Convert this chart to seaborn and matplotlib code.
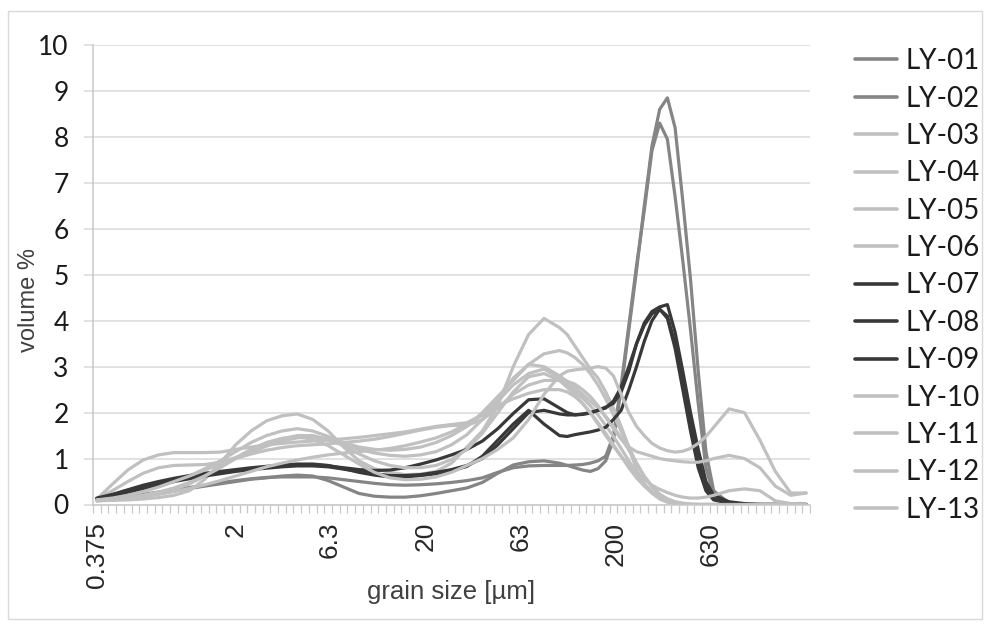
import matplotlib
matplotlib.use("Agg")
import numpy as np
import pandas as pd
import matplotlib.pyplot as plt
import seaborn as sns
from matplotlib.ticker import FixedLocator, NullFormatter
from matplotlib.lines import Line2D
from matplotlib.patches import Rectangle

# ---------------- data ----------------
# laser-diffraction size classes (µm), 93 channels
size_classes = [0.375, 0.412, 0.452, 0.496, 0.545, 0.598, 0.657, 0.721, 0.791, 0.869,
                0.953, 1.047, 1.149, 1.261, 1.385, 1.520, 1.669, 1.832, 2.011, 2.207,
                2.423, 2.660, 2.920, 3.205, 3.519, 3.863, 4.240, 4.655, 5.110, 5.610,
                6.158, 6.760, 7.421, 8.147, 8.943, 9.817, 10.78, 11.83, 12.99, 14.26,
                15.65, 17.18, 18.86, 20.71, 22.73, 24.95, 27.39, 30.07, 33.01, 36.24,
                39.78, 43.67, 47.94, 52.62, 57.77, 63.41, 69.61, 76.42, 83.89, 92.09,
                101.1, 111.0, 121.8, 133.7, 146.8, 161.2, 176.9, 194.2, 213.2, 234.1,
                256.9, 282.1, 309.6, 339.9, 373.1, 409.6, 449.7, 493.6, 541.9, 594.9,
                653.0, 716.9, 786.9, 863.9, 948.3, 1041, 1143, 1255, 1377, 1512,
                1660, 1822, 2000]

# channels at which the curves were read
sample_idx = ([0, 2, 4, 6, 8, 10, 12, 14, 16, 18, 20, 22, 24, 26, 28, 30, 32, 34, 36, 38,
               40, 42, 44, 46, 48, 50, 52, 54, 56, 58]
              + [60, 61, 62, 63, 64, 65, 66, 67, 68, 69, 70, 71, 72, 73, 74, 75, 76, 77, 78, 79, 80]
              + [82, 84, 86, 88, 90, 92])

samples = ['LY-01', 'LY-02', 'LY-03', 'LY-04', 'LY-05', 'LY-06', 'LY-07',
           'LY-08', 'LY-09', 'LY-10', 'LY-11', 'LY-12', 'LY-13']

tick_values = [0.375, 2, 6.3, 20, 63, 200, 630]
tick_labels = ['0.375', '2', '6.3', '20', '63', '200', '630']

ly01 = [0.12, 0.13, 0.16, 0.20, 0.25, 0.30, 0.35, 0.40, 0.45, 0.50, 0.55, 0.58, 0.62, 0.64, 0.62,
        0.52, 0.38, 0.24, 0.18, 0.16, 0.16, 0.19, 0.24, 0.30, 0.36, 0.48, 0.68, 0.86, 0.93, 0.95,
        0.90, 0.85, 0.80, 0.75, 0.72, 0.78, 0.95, 1.40, 2.50, 3.80, 5.10, 6.50, 7.80, 8.60, 8.85,
        8.20, 6.60, 4.90, 2.90, 1.15, 0.30,
        0.03, 0.0, 0.0, 0.0, 0.0, 0.0]
ly02 = [0.12, 0.14, 0.18, 0.22, 0.27, 0.32, 0.37, 0.42, 0.47, 0.52, 0.56, 0.59, 0.60, 0.60, 0.60,
        0.58, 0.54, 0.50, 0.46, 0.43, 0.42, 0.43, 0.45, 0.48, 0.52, 0.58, 0.70, 0.80, 0.84, 0.85,
        0.85, 0.85, 0.86, 0.87, 0.90, 0.95, 1.05, 1.50, 2.60, 3.90, 5.20, 6.40, 7.70, 8.30, 7.95,
        6.70, 5.30, 3.80, 2.20, 0.80, 0.20,
        0.02, 0.0, 0.0, 0.0, 0.0, 0.0]
ly03 = [0.08, 0.09, 0.10, 0.12, 0.15, 0.20, 0.30, 0.55, 0.90, 1.30, 1.60, 1.82, 1.93, 1.97, 1.85,
        1.60, 1.25, 0.95, 0.78, 0.70, 0.65, 0.66, 0.72, 0.90, 1.25, 1.60, 2.15, 3.00, 3.70, 4.05,
        3.85, 3.70, 3.45, 3.20, 2.95, 2.75, 2.45, 2.10, 1.70, 1.25, 0.75, 0.45, 0.25, 0.12, 0.05,
        0.02, 0.01, 0.0, 0.0, 0.0, 0.0,
        0.0, 0.0, 0.0, 0.0, 0.0, 0.0]
ly04 = [0.10, 0.15, 0.22, 0.30, 0.40, 0.50, 0.62, 0.78, 0.95, 1.15, 1.35, 1.50, 1.60, 1.65, 1.60,
        1.48, 1.35, 1.25, 1.20, 1.18, 1.20, 1.25, 1.35, 1.50, 1.70, 2.00, 2.35, 2.70, 3.05, 3.28,
        3.35, 3.30, 3.20, 3.05, 2.85, 2.60, 2.30, 1.95, 1.60, 1.25, 0.90, 0.60, 0.38, 0.22, 0.12,
        0.06, 0.03, 0.01, 0.0, 0.0, 0.0,
        0.0, 0.0, 0.0, 0.0, 0.0, 0.0]
ly05 = [0.12, 0.44, 0.75, 0.97, 1.08, 1.13, 1.13, 1.13, 1.14, 1.20, 1.25, 1.30, 1.33, 1.36, 1.38,
        1.40, 1.43, 1.46, 1.50, 1.54, 1.58, 1.64, 1.70, 1.74, 1.78, 1.95, 2.30, 2.75, 3.05, 3.00,
        2.80, 2.68, 2.55, 2.40, 2.25, 2.10, 1.92, 1.70, 1.45, 1.18, 0.90, 0.62, 0.40, 0.22, 0.12,
        0.05, 0.02, 0.0, 0.0, 0.0, 0.0,
        0.0, 0.0, 0.0, 0.0, 0.0, 0.0]
ly06 = [0.12, 0.30, 0.50, 0.68, 0.80, 0.85, 0.86, 0.87, 0.92, 1.02, 1.14, 1.27, 1.38, 1.45, 1.48,
        1.40, 1.30, 1.20, 1.12, 1.07, 1.05, 1.08, 1.15, 1.30, 1.52, 1.85, 2.25, 2.60, 2.85, 2.95,
        2.75, 2.62, 2.48, 2.32, 2.15, 1.95, 1.72, 1.48, 1.22, 0.95, 0.68, 0.45, 0.28, 0.16, 0.08,
        0.04, 0.02, 0.0, 0.0, 0.0, 0.0,
        0.0, 0.0, 0.0, 0.0, 0.0, 0.0]
ly07 = [0.13, 0.20, 0.30, 0.38, 0.46, 0.53, 0.60, 0.65, 0.70, 0.74, 0.78, 0.81, 0.84, 0.87, 0.88,
        0.85, 0.78, 0.70, 0.64, 0.60, 0.60, 0.63, 0.67, 0.73, 0.83, 1.05, 1.40, 1.75, 2.05, 1.75,
        1.50, 1.48, 1.52, 1.55, 1.58, 1.62, 1.68, 1.85, 2.05, 2.50, 3.00, 3.55, 4.00, 4.25, 4.10,
        3.50, 2.70, 1.80, 0.95, 0.38, 0.12,
        0.03, 0.0, 0.0, 0.0, 0.0, 0.0]
ly08 = [0.13, 0.19, 0.27, 0.35, 0.43, 0.50, 0.56, 0.62, 0.67, 0.72, 0.76, 0.79, 0.82, 0.84, 0.84,
        0.82, 0.77, 0.72, 0.67, 0.63, 0.63, 0.65, 0.70, 0.76, 0.85, 1.00, 1.30, 1.65, 2.00, 2.05,
        1.97, 1.95, 1.95, 1.97, 2.00, 2.05, 2.10, 2.25, 2.55, 3.00, 3.50, 3.90, 4.15, 4.25, 4.05,
        3.40, 2.50, 1.60, 0.80, 0.30, 0.10,
        0.03, 0.0, 0.0, 0.0, 0.0, 0.0]
ly09 = [0.14, 0.22, 0.32, 0.42, 0.50, 0.57, 0.63, 0.68, 0.72, 0.76, 0.80, 0.83, 0.86, 0.88, 0.87,
        0.84, 0.80, 0.76, 0.74, 0.75, 0.80, 0.88, 0.97, 1.08, 1.20, 1.38, 1.65, 1.98, 2.28, 2.30,
        2.10, 2.00, 1.95, 1.96, 1.99, 2.05, 2.12, 2.20, 2.45, 2.90, 3.50, 3.95, 4.20, 4.30, 4.35,
        3.75, 2.90, 2.00, 1.20, 0.50, 0.20,
        0.06, 0.02, 0.0, 0.0, 0.0, 0.0]
ly10 = [0.08, 0.11, 0.15, 0.20, 0.27, 0.36, 0.48, 0.62, 0.80, 1.00, 1.18, 1.32, 1.43, 1.50, 1.50,
        1.42, 1.28, 1.10, 0.95, 0.85, 0.80, 0.80, 0.85, 0.98, 1.20, 1.55, 2.00, 2.45, 2.78, 2.85,
        2.70, 2.55, 2.40, 2.20, 2.00, 1.78, 1.55, 1.30, 1.05, 0.80, 0.58, 0.40, 0.25, 0.14, 0.07,
        0.03, 0.01, 0.0, 0.0, 0.0, 0.0,
        0.0, 0.0, 0.0, 0.0, 0.0, 0.0]
ly11 = [0.10, 0.12, 0.15, 0.19, 0.25, 0.33, 0.45, 0.62, 0.82, 1.02, 1.20, 1.35, 1.44, 1.47, 1.42,
        1.28, 1.08, 0.88, 0.70, 0.58, 0.54, 0.55, 0.60, 0.70, 0.85, 1.00, 1.20, 1.45, 1.85, 2.40,
        2.80, 2.90, 2.93, 2.95, 2.97, 3.00, 2.97, 2.80, 2.40, 2.00, 1.70, 1.50, 1.33, 1.23, 1.17,
        1.14, 1.16, 1.22, 1.33, 1.48, 1.68,
        2.08, 2.00, 1.40, 0.72, 0.25, 0.25]
ly12 = [0.10, 0.14, 0.20, 0.28, 0.38, 0.50, 0.62, 0.75, 0.88, 1.00, 1.10, 1.18, 1.24, 1.28, 1.30,
        1.32, 1.35, 1.38, 1.42, 1.48, 1.55, 1.62, 1.68, 1.72, 1.72, 1.85, 2.10, 2.40, 2.60, 2.70,
        2.70, 2.68, 2.62, 2.50, 2.35, 2.15, 1.90, 1.65, 1.42, 1.25, 1.15, 1.10, 1.05, 1.00, 0.97,
        0.95, 0.93, 0.92, 0.92, 0.95, 1.00,
        1.07, 1.00, 0.80, 0.40, 0.20, 0.25]
ly13 = [0.08, 0.10, 0.13, 0.17, 0.22, 0.28, 0.35, 0.43, 0.52, 0.62, 0.72, 0.82, 0.90, 0.97, 1.03,
        1.08, 1.12, 1.15, 1.18, 1.22, 1.28, 1.36, 1.45, 1.58, 1.75, 1.95, 2.15, 2.30, 2.42, 2.50,
        2.50, 2.45, 2.35, 2.20, 2.00, 1.75, 1.50, 1.27, 1.05, 0.85, 0.70, 0.55, 0.42, 0.33, 0.26,
        0.20, 0.16, 0.14, 0.14, 0.16, 0.20,
        0.30, 0.34, 0.30, 0.08, 0.02, 0.0]

series = [ly01, ly02, ly03, ly04, ly05, ly06, ly07, ly08, ly09, ly10, ly11, ly12, ly13]

# ---------------- styles ----------------
MID, LIGHT, DARK = '#858585', '#c0c0c0', '#383838'
colors = [MID, MID, LIGHT, LIGHT, LIGHT, LIGHT, DARK, DARK, DARK,
          LIGHT, LIGHT, LIGHT, LIGHT]
palette = dict(zip(samples, colors))

x_sizes = [size_classes[i] for i in sample_idx]
rows = []
for name, vals in zip(samples, series):
    for xs, v in zip(x_sizes, vals):
        rows.append((name, xs, v))
df = pd.DataFrame(rows, columns=['sample', 'size', 'vol'])

sns.set_style('white')
plt.rcParams['font.family'] = ['Liberation Sans', 'DejaVu Sans']

W, H = 989, 624
fig = plt.figure(figsize=(W / 100, H / 100), dpi=100)
L, R, T, B = 93, 810, 45, 504.5
ax = fig.add_axes([L / W, 1 - B / H, (R - L) / W, (B - T) / H])
ax.set_xscale('log')

sns.lineplot(data=df, x='size', y='vol', hue='sample', hue_order=samples,
             palette=palette, linewidth=2.3, estimator=None, legend=False, ax=ax)

# channel boundaries -> category ticks
sc = np.array(size_classes)
mids = np.sqrt(sc[:-1] * sc[1:])
lo = sc[0] ** 2 / mids[0]
hi = sc[-1] ** 2 / mids[-1]
bounds = np.concatenate([[lo], mids, [hi]])

ax.set_xlim(lo, hi)
ax.set_ylim(0, 10)
ax.set_yticks(range(0, 11))
ax.set_xticks(tick_values)
ax.set_xticklabels(tick_labels, rotation=90)
ax.xaxis.set_minor_locator(FixedLocator(bounds))
ax.xaxis.set_minor_formatter(NullFormatter())

ax.set_axisbelow(True)
ax.yaxis.grid(True, color='#d9d9d9', linewidth=1.1)
ax.xaxis.grid(False)

ax.tick_params(axis='x', which='minor', length=5.5, width=0.9, color='#c8c8c8',
               direction='out', bottom=True)
ax.tick_params(axis='x', which='major', length=0, pad=12.5, labelsize=19,
               labelcolor='#262626')
ax.tick_params(axis='y', which='major', length=6.5, width=1.1, color='#d9d9d9',
               pad=11, labelsize=19, labelcolor='#1a1a1a', left=True)
for lab in ax.get_yticklabels():
    lab.set_fontfamily(['Lato', 'DejaVu Sans'])

for s in ['top', 'right']:
    ax.spines[s].set_visible(False)
for s in ['left', 'bottom']:
    ax.spines[s].set_color('#c8c8c8')
    ax.spines[s].set_linewidth(1.1)

ax.set_xlabel('grain size [µm]', fontsize=18.5, color='#404040')
ax.set_ylabel('volume %', fontsize=17, color='#404040')
ax.xaxis.set_label_coords(0.5, -0.165)
ax.yaxis.set_label_coords(-0.074, 0.445)

handles = [Line2D([], [], color=c, lw=2.6) for c in colors]
fig.legend(handles, samples, loc='center left',
           bbox_to_anchor=(855 / W, 1 - 285.5 / H), frameon=False,
           prop={'family': ['Lato', 'DejaVu Sans'], 'size': 20},
           handlelength=1.5, handletextpad=0.33, labelspacing=0.41,
           borderpad=0, borderaxespad=0, labelcolor='#1a1a1a')

fig.patches.append(Rectangle((8 / W, 1 - 619 / H), (982 - 8) / W, (619 - 11) / H,
                             transform=fig.transFigure, fill=False,
                             edgecolor='#d9d9d9', linewidth=1.0))

fig.savefig('out.png', dpi=100)
